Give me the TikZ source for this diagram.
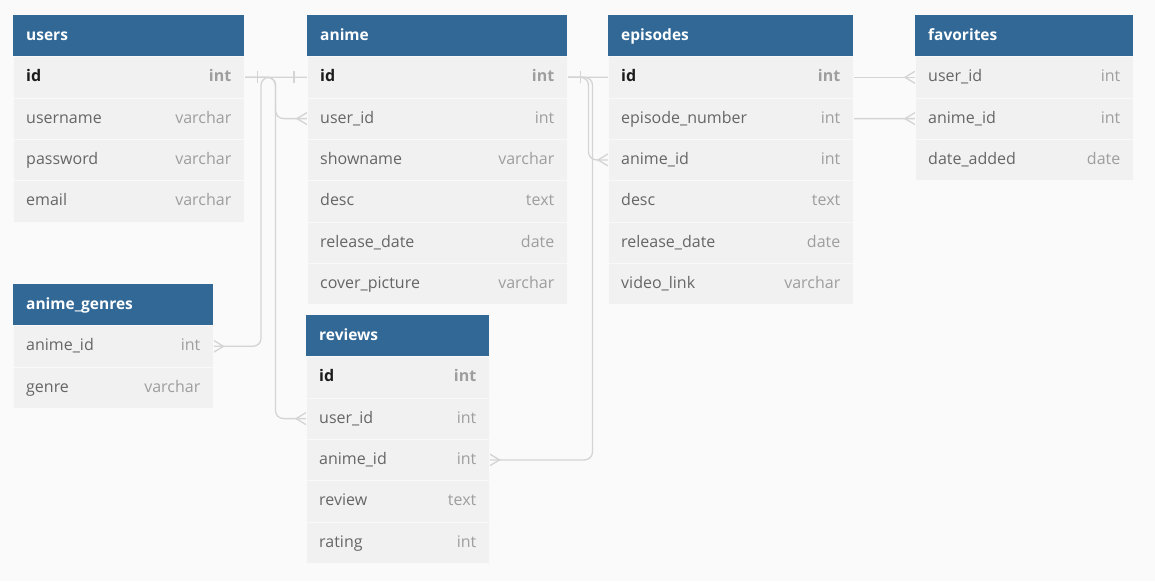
\documentclass[tikz,border=0pt]{standalone}
\usepackage{fontspec}
\setmainfont{Open Sans}
\usepackage{xcolor}
\usetikzlibrary{calc,decorations.markings}

\definecolor{pagebg}{RGB}{250,250,250}
\definecolor{headblue}{RGB}{49,104,150}
\definecolor{rowgray}{RGB}{241,241,241}
\definecolor{namegray}{RGB}{102,102,102}
\definecolor{typegray}{RGB}{158,158,158}
\definecolor{keyblack}{RGB}{28,28,28}
\definecolor{linkgray}{RGB}{212,212,212}

\pgfdeclarelayer{paperlayer}
\pgfdeclarelayer{linklayer}
\pgfsetlayers{paperlayer,linklayer,main}

\tikzset{
  tablehead/.style={fill=headblue, minimum height=41pt, inner sep=0pt, anchor=north west},
  tabletitle/.style={text=white, inner sep=0pt, anchor=base west, font=\fontsize{15.5}{18}\selectfont\bfseries},
  tablerow/.style={fill=rowgray, draw=rowgray!45!white, line width=0.5pt, minimum height=41.3pt, inner sep=0pt, anchor=north west},
  cell/.style={inner sep=0pt, font=\fontsize{16}{19}\selectfont},
  pk-name/.style={cell, anchor=base west, text=keyblack, font=\fontsize{16}{19}\selectfont\bfseries},
  pk-type/.style={cell, anchor=base east, text=typegray, font=\fontsize{16}{19}\selectfont\bfseries},
  col-name/.style={cell, anchor=base west, text=namegray},
  col-type/.style={cell, anchor=base east, text=typegray},
  linkmark/.style={draw=linkgray, line width=1.3pt, sharp corners},
  onemany/.style={draw=linkgray, line width=1.3pt, rounded corners=8pt,
    postaction={decorate},
    decoration={markings,
      mark=at position 13pt with {\draw[linkmark] (0,-6pt) -- (0,6pt);},
      mark=at position -10pt with {\draw[linkmark] (10pt,6pt) -- (0,0) -- (10pt,-6pt);}}},
}

% name, x, y, width, title, rows (field/type/kind)
\newcommand{\dbtable}[6]{%
  \node[tablehead, minimum width=#4pt] (#1) at (#2,#3) {};
  \node[tabletitle] (#1-title) at ([xshift=13pt,yshift=-4.5pt]#1.west) {#5};
  \foreach \fld/\typ/\kind [count=\i] in {#6} {
    \node[tablerow, minimum width=#4pt] (#1-\i) at ($(#1.south west)+(0,{41.3*(\i-1)})$) {};
    \node[\kind-name] (#1-\i-name) at ([xshift=13pt,yshift=-4.5pt]#1-\i.west) {\fld};
    \node[\kind-type] (#1-\i-type) at ([xshift=-13pt,yshift=-4.5pt]#1-\i.east) {\typ};
  }
}

\begin{document}
\begin{tikzpicture}[x=1pt, y=-1pt]
  \begin{pgfonlayer}{paperlayer}
    \fill[pagebg] (0,0) rectangle (1155,581);
  \end{pgfonlayer}

  % Tables
  \dbtable{users}{13}{15}{231}{users}{id/int/pk, username/varchar/col, password/varchar/col, email/varchar/col}
  \dbtable{anime}{307}{15}{260}{anime}{id/int/pk, user\_id/int/col, showname/varchar/col, desc/text/col, release\_date/date/col, cover\_picture/varchar/col}
  \dbtable{episodes}{608}{15}{245}{episodes}{id/int/pk, episode\_number/int/col, anime\_id/int/col, desc/text/col, release\_date/date/col, video\_link/varchar/col}
  \dbtable{favorites}{915}{15}{218}{favorites}{user\_id/int/col, anime\_id/int/col, date\_added/date/col}
  \dbtable{genres}{13}{284}{200}{anime\_genres}{anime\_id/int/col, genre/varchar/col}
  \dbtable{reviews}{306}{315}{183}{reviews}{id/int/pk, user\_id/int/col, anime\_id/int/col, review/text/col, rating/int/col}

  % Relations
  \begin{pgfonlayer}{linklayer}
    \draw[onemany] (users-1.east) -- ++(31,0) |- (anime-2.west);
    \draw[onemany] (users-1.east) -- ++(31,0) |- (reviews-2.west);
    \draw[onemany] (users-1.east) -- (favorites-1.west);
    \draw[onemany] (anime-1.west) -- ++(-46,0) |- (genres-1.east);
    \draw[onemany] (anime-1.east) -- ++(21,0) |- (episodes-3.west);
    \draw[onemany] (anime-1.east) -- ++(25,0) |- (reviews-3.east);
    \draw[onemany] (anime-1.east) -- ++(160,0) |- (favorites-2.west);
  \end{pgfonlayer}
\end{tikzpicture}
\end{document}
